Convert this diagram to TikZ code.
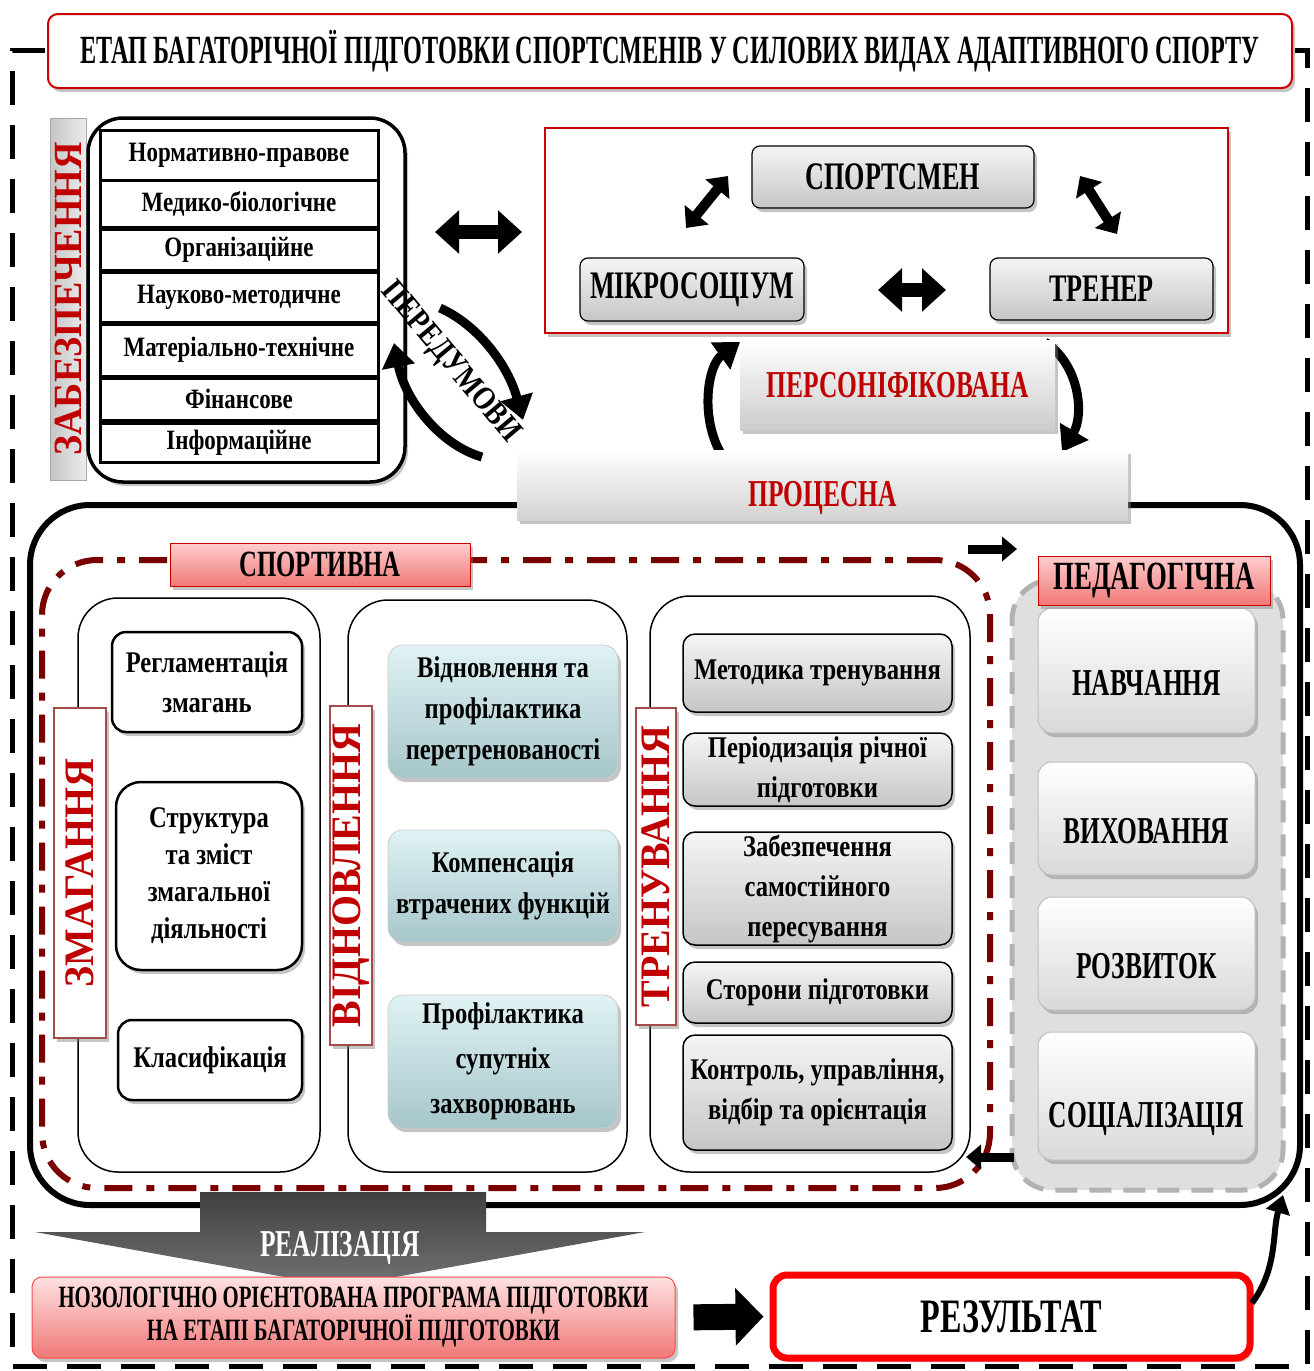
\documentclass[tikz,border=0pt]{standalone}
\usepackage{fontspec}
\setmainfont{Liberation Serif}[FakeStretch=0.82]
\newfontfamily\capsf{Liberation Serif}[FakeStretch=0.67]
\newfontfamily\titlef{Liberation Serif}[FakeStretch=0.605]
\newfontfamily\widef{Liberation Serif}[FakeStretch=0.95]
\usetikzlibrary{arrows.meta,shadows}
\definecolor{zred}{RGB}{192,0,0}
\definecolor{ddred}{RGB}{122,0,0}
\definecolor{lpink}{RGB}{255,205,205}
\definecolor{mpink}{RGB}{240,120,120}
\definecolor{lblue}{RGB}{224,242,244}
\definecolor{mblue}{RGB}{166,198,202}
\newcommand{\fsz}[2]{\fontsize{#1}{#2}\selectfont}

\begin{document}
\begin{tikzpicture}[x=1pt,y=-1pt,
    every node/.style={font=\bfseries},
    shd/.style={drop shadow={opacity=0.45,shadow xshift=3pt,shadow yshift=-4pt}},
    rowbox/.style={draw, line width=3pt, fill=white, minimum width=278pt, minimum height=#1, inner sep=0pt, font=\bfseries\fsz{28}{30}},
    whitebox/.style={draw, line width=2.5pt, rounded corners=14pt, fill=white, shd, minimum width=#1, align=center, inner sep=0pt, font=\bfseries\fsz{30}{40}},
    bluebox/.style={draw=gray!40, line width=0.8pt, rounded corners=15pt, top color=lblue, bottom color=mblue, shd, minimum width=230pt, align=center, inner sep=0pt, font=\bfseries\fsz{30}{41}},
    trbox/.style={draw, line width=1.5pt, rounded corners=12pt, top color=gray!8, bottom color=gray!45, shd, minimum width=269pt, align=center, inner sep=0pt, font=\bfseries\fsz{30}{40}},
    grayb/.style={draw, line width=1.2pt, rounded corners=8pt, top color=gray!8, bottom color=gray!45, shd, font=\capsf\bfseries\fsz{39}{41}},
    pedb/.style={draw=gray!50, line width=1pt, rounded corners=14pt, top color=white, bottom color=gray!30, shd, minimum width=217pt, text height=49pt, text depth=0pt, font=\capsf\bfseries\fsz{38}{40}},
    vlbl/.style={draw=ddred!70, line width=1.2pt, fill=white, shd, rotate=90, text=zred, inner sep=0pt, font=\widef\bfseries\fsz{42}{44}},
    colbox/.style={draw, line width=1.5pt, rounded corners=40pt, fill=white},
    dblarr/.style={line width=14pt, {Triangle[length=24pt,width=42pt]}-{Triangle[length=24pt,width=42pt]}},
    dblarrs/.style={line width=10pt, {Triangle[length=17pt,width=30pt]}-{Triangle[length=17pt,width=30pt]}},
    curvarr/.style={line width=9pt, -{Triangle[length=24pt,width=32pt]}},
    smallarr/.style={line width=9pt, -{Triangle[length=15pt,width=24pt]}},
    fatarr/.style={line width=26pt, -{Triangle[length=28pt,width=56pt]}}]

  \useasboundingbox (0,0) rectangle (1314,1371);
  \fill[white] (0,0) rectangle (1314,1371);

  % outer frame
  \draw[line width=5pt, dash pattern=on 34pt off 20pt] (45,50) -- (12,50) -- (12,1366) -- (1307,1366) -- (1307,50) -- (1295,50);
  \node[draw=red!80!black, line width=2pt, rounded corners=10pt, fill=white, shd, minimum width=1244pt, minimum height=74pt, font=\titlef\bfseries\fsz{40}{44}] (title) at (670,51) {ЕТАП БАГАТОРІЧНОЇ ПІДГОТОВКИ СПОРТСМЕНІВ У СИЛОВИХ ВИДАХ АДАПТИВНОГО СПОРТУ};

  % забезпечення
  \node[draw=gray!70, left color=gray!45, right color=gray!15, minimum width=362pt, minimum height=36pt, rotate=90, text=zred, inner sep=0pt, font=\widef\bfseries\fsz{40}{42}] (zab) at (68,299) {ЗАБЕЗПЕЧЕННЯ};
  \node[draw, line width=3.5pt, rounded corners=35pt, fill=white, shd, minimum width=317pt, minimum height=364pt] (zabfr) at (246.5,300) {};
  \foreach \n/\y/\h/\txt in {1/155/50/Нормативно-правове, 2/203.5/47/Медико-біологічне, 3/249.5/41/Організаційне, 4/297/50/Науково-методичне, 5/350/52/Матеріально-технічне, 6/399/42/Фінансове, 7/442.5/39/Інформаційне}
    \node[rowbox=\h pt] (row\n) at (239,\y) {\txt};

  \coordinate (hl) at (435,232);
  \coordinate (hr) at (522,232);
  \draw[dblarr] (hl) -- (hr);

  % передумови
  \coordinate (pd1) at (440,308);
  \coordinate (pd2) at (523,420);
  \coordinate (pu1) at (482,457);
  \coordinate (pu2) at (394,343);
  \draw[curvarr] (pd1) .. controls (478,325) and (508,365) .. (pd2);
  \draw[curvarr] (pu1) .. controls (440,445) and (405,400) .. (pu2);
  \node[rotate=-50, font=\bfseries\fsz{33}{35}] (pered) at (450,363) {ПЕРЕДУМОВИ};

  % спортсмен - тренер - мікросоціум
  \node[draw=red!80!black, line width=2.5pt, fill=white, shd, minimum width=683pt, minimum height=205pt] (kom) at (886.5,230.5) {};
  \node[grayb, minimum width=282pt, minimum height=62pt] (sport) at (893,177) {СПОРТСМЕН};
  \node[grayb, minimum width=224pt, minimum height=63pt] (mikro) at (692,289.5) {МІКРОСОЦІУМ};
  \node[grayb, minimum width=223pt, minimum height=62pt] (trener) at (1101.5,289) {ТРЕНЕР};
  \coordinate (a1s) at (686,228);
  \coordinate (a1e) at (728,176);
  \coordinate (a2s) at (1080,176);
  \coordinate (a2e) at (1117,234);
  \coordinate (a3s) at (878,290);
  \coordinate (a3e) at (946,290);
  \draw[dblarrs] (a1s) -- (a1e);
  \draw[dblarrs] (a2s) -- (a2e);
  \draw[dblarr] (a3s) -- (a3e);

  % процесна рамка
  \node[draw, line width=6pt, rounded corners=60pt, minimum width=1270pt, minimum height=700pt] (big) at (665,855) {};

  % персоніфікована
  \coordinate (pl1) at (720,452);
  \coordinate (pl2) at (740,342);
  \coordinate (pr1) at (1045,342);
  \coordinate (pr2) at (1062,452);
  \draw[curvarr] (pl1) .. controls (700,415) and (708,365) .. (pl2);
  \draw[curvarr] (pr1) .. controls (1080,365) and (1084,415) .. (pr2);
  \node[top color=white, bottom color=gray!40, shd, minimum width=315pt, minimum height=90pt, text=zred, font=\capsf\bfseries\fsz{38}{40}] (pers) at (897.5,385) {ПЕРСОНІФІКОВАНА};
  \node[top color=white, bottom color=gray!35, shd, minimum width=611pt, minimum height=70pt, text height=43pt, text depth=0pt, text=zred, font=\capsf\bfseries\fsz{38}{40}] (proc) at (822.5,485) {ПРОЦЕСНА};

  % спортивна
  \node[draw=ddred, line width=6pt, dash pattern=on 28pt off 14pt on 8pt off 14pt, rounded corners=55pt, minimum width=948pt, minimum height=628pt] (sportfr) at (516,874) {};
  \node[colbox, minimum width=242pt, minimum height=574pt] (col1) at (199,885) {};
  \node[colbox, minimum width=279pt, minimum height=572pt] (col2) at (487.5,886) {};
  \node[colbox, minimum width=320pt, minimum height=576pt] (col3) at (810,884) {};
  \node[draw=red!80!black, line width=1pt, top color=lpink, bottom color=mpink, shd, minimum width=300pt, minimum height=43pt, font=\capsf\bfseries\fsz{37}{39}] (sportl) at (320,564.5) {СПОРТИВНА};

  \node[whitebox=190pt, minimum height=100pt] (reg) at (207,682) {Регламентація\\змагань};
  \node[whitebox=186pt, minimum height=188pt, rounded corners=25pt, font=\bfseries\fsz{30}{37}] (struct) at (209,876) {Структура\\та зміст\\змагальної\\діяльності};
  \node[whitebox=184pt, minimum height=80pt] (klas) at (210,1060) {Класифікація};
  \node[vlbl, minimum width=330pt, minimum height=52pt] (zmlbl) at (80,873) {ЗМАГАННЯ};

  \node[bluebox, minimum height=133pt] (v1) at (503,711.5) {Відновлення та\\профілактика\\перетренованості};
  \node[bluebox, minimum height=112pt] (v2) at (503,886) {Компенсація\\втрачених функцій};
  \node[bluebox, minimum height=133pt, font=\bfseries\fsz{30}{45}] (v3) at (503,1061.5) {Профілактика\\супутніх\\захворювань};
  \node[vlbl, minimum width=339pt, minimum height=42pt] (vidlbl) at (351,875.5) {ВІДНОВЛЕННЯ};

  \node[trbox, minimum height=78pt] (t1) at (817.5,673) {Методика тренування};
  \node[trbox, minimum height=73pt] (t2) at (817.5,769.5) {Періодизація річної\\підготовки};
  \node[trbox, minimum height=113pt] (t3) at (817.5,888.5) {Забезпечення\\самостійного\\пересування};
  \node[trbox, minimum height=61pt] (t4) at (817.5,992.5) {Сторони підготовки};
  \node[trbox, minimum height=115pt] (t5) at (817.5,1092.5) {Контроль, управління,\\відбір та орієнтація};
  \node[vlbl, minimum width=317pt, minimum height=40pt] (trlbl) at (656,866.5) {ТРЕНУВАННЯ};

  % педагогічна
  \node[draw=gray!60, line width=5pt, dash pattern=on 22pt off 12pt, rounded corners=40pt, fill=gray!25, minimum width=271pt, minimum height=610pt] (pedbox) at (1147.5,885) {};
  \node[pedb, minimum height=125pt] (p1) at (1146.5,670.5) {НАВЧАННЯ};
  \node[pedb, minimum height=113pt] (p2) at (1146.5,818.5) {ВИХОВАННЯ};
  \node[pedb, minimum height=113pt] (p3) at (1146.5,953.5) {РОЗВИТОК};
  \node[pedb, minimum height=128pt, text height=62pt] (p4) at (1146.5,1096) {СОЦІАЛІЗАЦІЯ};
  \node[draw=red!80!black, line width=1pt, top color=lpink, bottom color=mpink, shd, minimum width=232pt, minimum height=49pt, font=\capsf\bfseries\fsz{40}{42}] (pedl) at (1154,580.5) {ПЕДАГОГІЧНА};

  \coordinate (sa1s) at (968,549);
  \coordinate (sa1e) at (1017,549);
  \coordinate (sa2s) at (1014,1157);
  \coordinate (sa2e) at (966,1157);
  \draw[smallarr] (sa1s) -- (sa1e);
  \draw[smallarr] (sa2s) -- (sa2e);

  % реалізація
  \shade[top color=black!75, bottom color=black!55] (200,1192) -- (486,1192) -- (486,1232) -- (645,1232) -- (340,1287) -- (35,1232) -- (200,1232) -- cycle;
  \node[text=white, font=\capsf\bfseries\fsz{38}{40}] (realiz) at (340,1248) {РЕАЛІЗАЦІЯ};

  \node[draw=red!70, line width=1pt, rounded corners=10pt, top color=lpink!60, bottom color=mpink, shd, minimum width=643pt, minimum height=81pt, align=center, inner sep=0pt, font=\capsf\bfseries\fsz{31}{33}] (noz) at (353.5,1317.5) {НОЗОЛОГІЧНО ОРІЄНТОВАНА ПРОГРАМА ПІДГОТОВКИ\\НА ЕТАПІ БАГАТОРІЧНОЇ ПІДГОТОВКИ};
  \node[draw=red, line width=7pt, rounded corners=14pt, fill=white, shd, minimum width=477pt, minimum height=83pt, font=\capsf\bfseries\fsz{48}{50}] (res) at (1011.5,1316.5) {РЕЗУЛЬТАТ};

  \draw[fatarr, shorten <=18pt, shorten >=6pt] (noz.east) -- (res.west);
  \coordinate (rs) at (1252,1303);
  \coordinate (re) at (1283,1195);
  \draw[line width=6pt, -{Triangle[length=18pt,width=24pt]}] (rs) .. controls (1278,1268) and (1272,1232) .. (re);

\end{tikzpicture}
\end{document}
